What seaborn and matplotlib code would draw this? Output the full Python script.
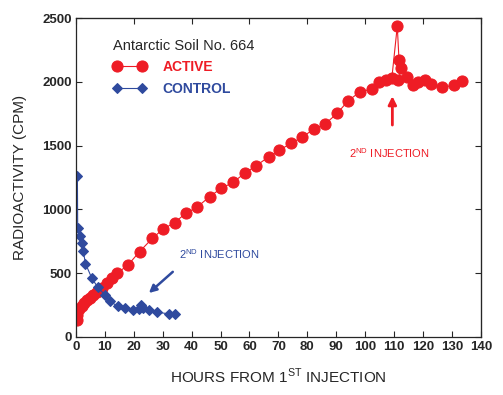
import numpy as np
import pandas as pd
import matplotlib
matplotlib.use("Agg")
import matplotlib.pyplot as plt
import seaborn as sns

active_hours = [0.2, 0.5, 1.1, 2.0, 2.8, 3.9, 4.8, 6.0, 7.3, 8.9, 10.6, 12.3, 14.2,
                18.0, 22.0, 26.4, 30.1, 34.1, 37.9, 41.8, 46.2, 50.2, 54.3, 58.3,
                62.3, 66.7, 70.3, 74.4, 78.0, 82.2, 86.1, 90.3, 94.1, 98.2, 102.3,
                104.8, 107.1, 109.2, 111.1, 111.7, 112.5, 111.5, 114.6, 116.6,
                118.4, 120.7, 122.7, 126.6, 130.7, 133.6]
active_cpm = [130, 172, 217, 245, 269, 290, 303, 329, 355, 381, 421, 460, 499,
              564, 669, 773, 846, 896, 969, 1016, 1100, 1165, 1212, 1283,
              1343, 1413, 1465, 1518, 1565, 1628, 1669, 1753, 1852, 1922, 1944,
              2001, 2014, 2027, 2437, 2171, 2111, 2014, 2035, 1975,
              2001, 2014, 1983, 1957, 1975, 2008]

# control soil
control_hours = [0.5, 0.6, 1.4, 2.0, 2.5, 3.3, 5.4, 7.5, 10.0, 11.7, 14.5, 16.8,
                 19.8, 21.7, 22.5, 23.3, 25.4, 27.9, 32.3, 34.4]
control_cpm = [1260, 855, 790, 740, 675, 575, 465, 390, 330, 280, 240, 225,
               212, 220, 252, 230, 212, 195, 180, 180]

red = "#EE1C25"
blue = "#2F4A9E"

sns.set_style("ticks")
plt.rcParams["font.family"] = ["Liberation Sans", "DejaVu Sans"]
plt.rcParams["mathtext.fontset"] = "custom"
plt.rcParams["mathtext.rm"] = "Liberation Sans"

df_a = pd.DataFrame({"hours": active_hours, "cpm": active_cpm})
df_c = pd.DataFrame({"hours": control_hours, "cpm": control_cpm})

fig = plt.figure(figsize=(5.03, 3.95), dpi=100)
ax = fig.add_axes([0.151, 0.147, 0.805, 0.807])

sns.lineplot(data=df_a, x="hours", y="cpm", sort=False, estimator=None,
             color=red, lw=0.8, marker="o", markersize=8,
             markeredgecolor=red, label="ACTIVE", ax=ax)
sns.lineplot(data=df_c, x="hours", y="cpm", sort=False, estimator=None,
             color=blue, lw=0.8, marker="D", markersize=5.5,
             markeredgecolor=blue, label="CONTROL", ax=ax)

ax.set_xlim(0, 140)
ax.set_ylim(0, 2500)
ax.set_xticks(np.arange(0, 141, 10))
ax.set_yticks(np.arange(0, 2501, 500))
ax.tick_params(direction="in", length=4, width=0.8, labelsize=9.5, pad=3)
for lab in ax.get_xticklabels() + ax.get_yticklabels():
    lab.set_fontweight("bold")
for sp in ax.spines.values():
    sp.set_linewidth(0.9)

# ticks on top / right sides as in the original
top = ax.secondary_xaxis("top")
top.set_xticks(np.arange(0, 141, 20))
top.tick_params(direction="in", length=4, labeltop=False)
right = ax.secondary_yaxis("right")
right.set_yticks(np.arange(0, 2501, 500))
right.tick_params(direction="in", length=4, labelright=False)

ax.set_xlabel(r"HOURS FROM 1$^{\mathrm{ST}}$ INJECTION", fontsize=11, labelpad=10)
ax.set_ylabel("RADIOACTIVITY (CPM)", fontsize=11, labelpad=11)

leg = ax.legend(loc="upper left", bbox_to_anchor=(0.06, 0.975), frameon=False,
                title="Antarctic Soil No. 664", title_fontsize=10.5,
                fontsize=10, numpoints=2, handlelength=2.4, handletextpad=1.2,
                labelspacing=0.55)
leg._legend_box.align = "left"
for txt, c in zip(leg.get_texts(), [red, blue]):
    txt.set_color(c)
    txt.set_fontweight("bold")

# second injection annotations
ax.annotate("", xy=(109.4, 1910), xytext=(109.4, 1640),
            arrowprops=dict(arrowstyle="-|>", color=red, lw=2, mutation_scale=12))
ax.text(108.3, 1444, r"2$^{\mathrm{ND}}$ INJECTION", color=red, fontsize=8,
        ha="center", va="center")
ax.annotate("", xy=(24.5, 330), xytext=(34.2, 525),
            arrowprops=dict(arrowstyle="-|>", color=blue, lw=1.8, mutation_scale=11))
ax.text(49.7, 650, r"2$^{\mathrm{ND}}$ INJECTION", color=blue, fontsize=8,
        ha="center", va="center")

fig.savefig("out.png", dpi=100)
